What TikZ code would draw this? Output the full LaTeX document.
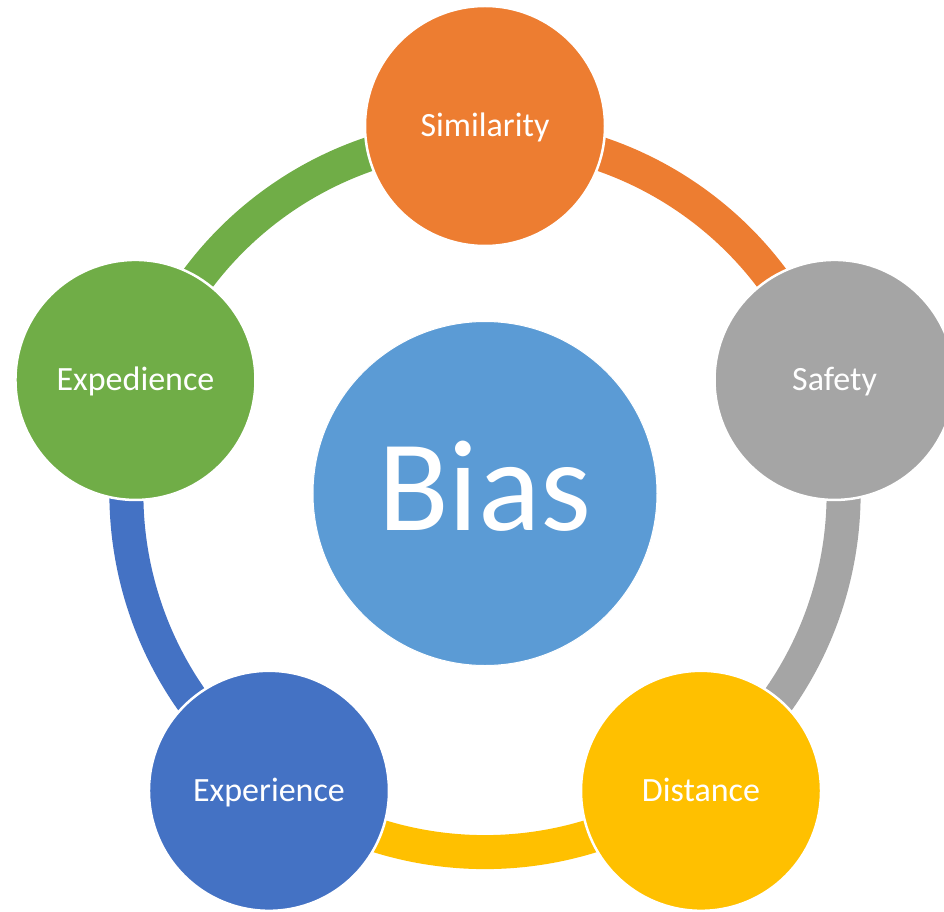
\documentclass[tikz,border=0pt]{standalone}
\usepackage{fontspec}
\setmainfont{Carlito}
\usetikzlibrary{calc}
\definecolor{cOrange}{HTML}{ED7D31}
\definecolor{cGray}{HTML}{A5A5A5}
\definecolor{cYellow}{HTML}{FFC000}
\definecolor{cBlue}{HTML}{4472C4}
\definecolor{cGreen}{HTML}{70AD47}
\definecolor{cLight}{HTML}{5B9BD5}
\tikzset{
  outer/.style={circle, minimum size=240pt, inner sep=0pt, draw=white, line width=2.5pt,
    text=white, font=\fontsize{34}{40}\selectfont, text height=21.5pt, text depth=0pt},
  hub/.style={circle, minimum size=344pt, inner sep=0pt, draw=white, line width=1pt,
    text=white, font=\fontsize{130}{150}\selectfont, text height=73pt, text depth=0pt, fill=cLight},
  ring/.style={line width=34pt, line cap=butt}
}
\begin{document}
\begin{tikzpicture}[x=1pt,y=1pt]
\useasboundingbox (-485,-417.5) rectangle (459,493.5);
\coordinate (o) at (0,0);
% arcs
\draw[ring, cOrange] ($(o)+(90:358.6pt)$) arc[start angle=90, end angle=18, radius=358.6pt];
\draw[ring, cGray] ($(o)+(18:358.6pt)$) arc[start angle=18, end angle=-54, radius=358.6pt];
\draw[ring, cYellow] ($(o)+(-54:358.6pt)$) arc[start angle=-54, end angle=-126, radius=358.6pt];
\draw[ring, cBlue] ($(o)+(-126:358.6pt)$) arc[start angle=-126, end angle=-198, radius=358.6pt];
\draw[ring, cGreen] ($(o)+(162:358.6pt)$) arc[start angle=162, end angle=90, radius=358.6pt];
% circles
\node[hub] (bias) at (o) {Bias};
\node[outer, fill=cOrange] (sim) at (90:367.5pt) {Similarity};
\node[outer, fill=cGray] (saf) at (18:367.5pt) {Safety};
\node[outer, fill=cYellow] (dis) at (-54:367.5pt) {Distance};
\node[outer, fill=cBlue] (exr) at (-126:367.5pt) {Experience};
\node[outer, fill=cGreen] (exd) at (162:367.5pt) {Expedience};
\end{tikzpicture}
\end{document}
